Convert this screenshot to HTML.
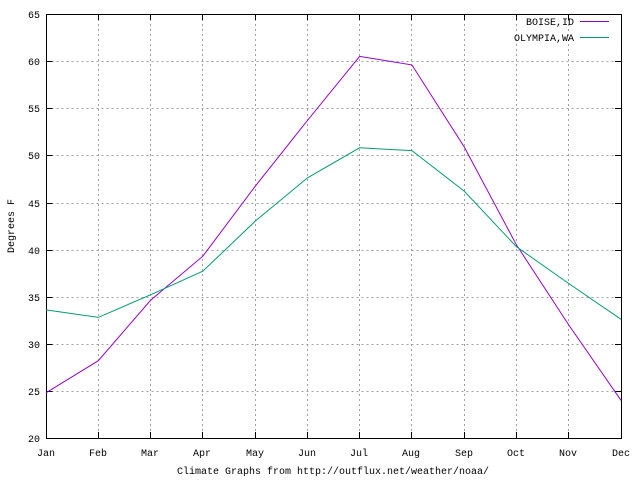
<!DOCTYPE html>
<html><head><style>body{margin:0;background:#fff}svg text{font-family:"Liberation Mono",monospace;font-size:10px;fill:#000}</style></head><body>
<svg width="640" height="480" xmlns="http://www.w3.org/2000/svg">
<g stroke="#a0a0a0" stroke-dasharray="2,3" stroke-width="1">
<path d="M46.5 391.5H621M46.5 344.5H621M46.5 297.5H621M46.5 250.5H621M46.5 203.5H621M46.5 155.5H621M46.5 108.5H621M46.5 61.5H621"/>
<path d="M98.5 14V438M150.5 14V438M202.5 14V438M255.5 14V438M307.5 14V438M359.5 14V438M411.5 14V438M464.5 14V438M516.5 14V438M568.5 14V438"/>
</g>
<g stroke="#000" stroke-width="1">
<path d="M46.5 391.5h6M46.5 344.5h6M46.5 297.5h6M46.5 250.5h6M46.5 203.5h6M46.5 155.5h6M46.5 108.5h6M46.5 61.5h6M621 391.5h-6M621 344.5h-6M621 297.5h-6M621 250.5h-6M621 203.5h-6M621 155.5h-6M621 108.5h-6M621 61.5h-6"/>
<path d="M98.5 438v-6M150.5 438v-6M202.5 438v-6M255.5 438v-6M307.5 438v-6M359.5 438v-6M411.5 438v-6M464.5 438v-6M516.5 438v-6M568.5 438v-6M98.5 14v6M150.5 14v6M202.5 14v6M255.5 14v6M307.5 14v6M359.5 14v6M411.5 14v6M464.5 14v6M516.5 14v6M568.5 14v6"/>
<rect x="46.5" y="14.5" width="575" height="424" fill="none"/>
</g>
<g text-anchor="end">
<text x="40" y="442">20</text><text x="40" y="395">25</text><text x="40" y="348">30</text><text x="40" y="301">35</text><text x="40" y="254">40</text><text x="40" y="207">45</text><text x="40" y="159">50</text><text x="40" y="112">55</text><text x="40" y="65">60</text><text x="40" y="18">65</text>
</g>
<g text-anchor="middle">
<text x="46" y="456">Jan</text><text x="98" y="456">Feb</text><text x="150" y="456">Mar</text><text x="202" y="456">Apr</text><text x="255" y="456">May</text><text x="307" y="456">Jun</text><text x="359" y="456">Jul</text><text x="411" y="456">Aug</text><text x="464" y="456">Sep</text><text x="516" y="456">Oct</text><text x="568" y="456">Nov</text><text x="621" y="456">Dec</text>
<text x="333" y="474">Climate Graphs from http://outflux.net/weather/noaa/</text>
<text transform="translate(14,226) rotate(-90)">Degrees F</text>
</g>
<text x="574" y="25" text-anchor="end">BOISE,ID</text>
<text x="574" y="41" text-anchor="end">OLYMPIA,WA</text>
<line x1="580" y1="21.5" x2="609" y2="21.5" stroke="#9400d3" stroke-width="1"/>
<line x1="580" y1="37.5" x2="609" y2="37.5" stroke="#009e73" stroke-width="1"/>
<polyline fill="none" stroke="#9400d3" points="46,392.8 98.3,360.7 150.5,300.4 202.8,256.2 255.1,186.4 307.4,120.5 359.6,56.4 411.9,64.9 464.2,146.9 516.4,244.8 568.7,324.9 621,400.3"/>
<polyline fill="none" stroke="#009e73" points="46,309.9 98.3,317.4 150.5,294.8 202.8,271.2 255.1,221.3 307.4,177.9 359.6,147.8 411.9,150.6 464.2,191.1 516.4,246.7 568.7,283.5 621,319.3"/>
</svg>
</body></html>
